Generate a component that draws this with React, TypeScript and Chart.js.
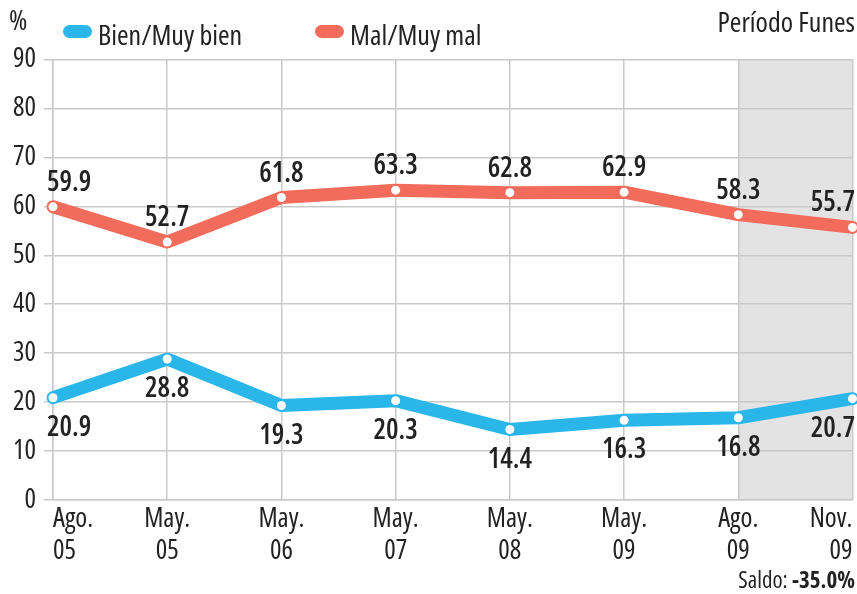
import React, { useEffect, useRef } from "react";
import { Chart, registerables } from "chart.js";

Chart.register(...registerables);

const categories: string[][] = [
  ["Ago.", "05"],
  ["May.", "05"],
  ["May.", "06"],
  ["May.", "07"],
  ["May.", "08"],
  ["May.", "09"],
  ["Ago.", "09"],
  ["Nov.", "09"],
];
const bienValues = [20.9, 28.8, 19.3, 20.3, 14.4, 16.3, 16.8, 20.7];
const malValues = [59.9, 52.7, 61.8, 63.3, 62.8, 62.9, 58.3, 55.7];
const yTicks = [0, 10, 20, 30, 40, 50, 60, 70, 80, 90];
const seriesNames = ["Bien/Muy bien", "Mal/Muy mal"];
const unitLabel = "%";
const periodLabel = "Período Funes";
const saldoLabel = "Saldo: ";
const saldoValue = "-35.0%";
const shadedStartIndex = 6;

const W = 857;
const H = 594;
const FAMILY = '"Open Sans", "DejaVu Sans Condensed", sans-serif';
const f = (size: number, weight = "") => `${weight} condensed ${size}px ${FAMILY}`.trim();
const BLUE = "#2bb6ea";
const RED = "#f36b5b";
const TEXT = "#222222";
const GRID = "#c9c9c9";
const BAND = "#e3e3e3";

const bandPlugin = {
  id: "band",
  beforeDraw(chart: any) {
    const { ctx, chartArea, scales } = chart;
    ctx.save();
    ctx.fillStyle = "#ffffff";
    ctx.fillRect(0, 0, chart.width, chart.height);
    const x0 = scales.x.getPixelForValue(shadedStartIndex);
    ctx.fillStyle = BAND;
    ctx.fillRect(x0, chartArea.top, chartArea.right - x0, chartArea.bottom - chartArea.top);
    ctx.restore();
  },
};

const textPlugin = {
  id: "texts",
  afterDraw(chart: any) {
    const { ctx, chartArea } = chart;
    ctx.save();
    ctx.fillStyle = TEXT;
    ctx.textBaseline = "alphabetic";

    // unit
    ctx.font = f(28);
    ctx.textAlign = "left";
    ctx.fillText(unitLabel, 9, 30);

    // legend
    const legend = [
      { name: seriesNames[0], color: BLUE, x: 63 },
      { name: seriesNames[1], color: RED, x: 315 },
    ];
    legend.forEach((l) => {
      ctx.fillStyle = l.color;
      ctx.beginPath();
      (ctx as any).roundRect(l.x, 25, 29, 13, 6.5);
      ctx.fill();
      ctx.fillStyle = TEXT;
      ctx.font = f(28);
      ctx.textAlign = "left";
      ctx.fillText(l.name, l.x + 35, 45);
    });

    // period label
    ctx.font = f(28);
    ctx.textAlign = "right";
    ctx.fillText(periodLabel, 855, 32);

    // saldo
    ctx.font = f(23, "bold");
    const vw = ctx.measureText(saldoValue).width;
    ctx.textAlign = "right";
    ctx.fillText(saldoValue, 855, 588);
    ctx.font = f(23);
    ctx.fillText(saldoLabel, 855 - vw, 588);

    // data labels
    ctx.font = f(28, "600");
    ctx.textAlign = "left";
    chart.data.datasets.forEach((ds: any, di: number) => {
      const meta = chart.getDatasetMeta(di);
      const above = di === 1;
      meta.data.forEach((pt: any, i: number) => {
        const txt = ds.data[i].toFixed(1);
        const w = ctx.measureText(txt).width;
        let left = pt.x - w / 2;
        if (left < chartArea.left - 6) left = chartArea.left - 6;
        if (left + w > 855) left = 855 - w;
        const y = above ? pt.y - 16 : pt.y + 38;
        ctx.fillText(txt, left, y);
      });
    });
    ctx.restore();
  },
};

export default function App() {
  const ref = useRef<HTMLCanvasElement | null>(null);

  useEffect(() => {
    if (!ref.current) return;
    const chart = new Chart(ref.current, {
      type: "line",
      data: {
        labels: categories,
        datasets: [
          {
            label: seriesNames[0],
            data: bienValues,
            borderColor: BLUE,
            borderWidth: 13,
            borderJoinStyle: "round",
            borderCapStyle: "round",
            pointRadius: 4.5,
            pointBackgroundColor: "#ffffff",
            pointBorderWidth: 0,
            tension: 0,
          },
          {
            label: seriesNames[1],
            data: malValues,
            borderColor: RED,
            borderWidth: 13,
            borderJoinStyle: "round",
            borderCapStyle: "round",
            pointRadius: 4.5,
            pointBackgroundColor: "#ffffff",
            pointBorderWidth: 0,
            tension: 0,
          },
        ],
      },
      options: {
        responsive: false,
        animation: false,
        devicePixelRatio: 1,
        layout: { padding: { left: 0, right: 3, top: 59.5, bottom: 0 } },
        plugins: {
          legend: { display: false },
          tooltip: { enabled: false },
        },
        scales: {
          x: {
            type: "category",
            offset: false,
            grid: { color: GRID, lineWidth: 1.5, drawTicks: false, tickLength: 0 },
            border: { display: true, color: GRID, width: 1.5 },
            ticks: {
              color: TEXT,
              font: { family: FAMILY, size: 27, weight: "condensed", lineHeight: 1.2 },
              padding: 3,
              maxRotation: 0,
              autoSkip: false,
              align: "inner",
            },
            afterFit(scale: any) {
              scale.height = 94;
              scale.paddingLeft = 0;
              scale.paddingRight = 0;
            },
          },
          y: {
            min: 0,
            max: 90,
            grid: { color: GRID, lineWidth: 1.5, drawTicks: true, tickLength: 9 },
            border: { display: true, color: GRID, width: 1.5 },
            ticks: {
              color: TEXT,
              font: { family: FAMILY, size: 27, weight: "condensed" },
              padding: 8,
              stepSize: 10,
            },
            afterBuildTicks(scale: any) {
              scale.ticks = yTicks.map((v) => ({ value: v }));
            },
            afterFit(scale: any) {
              scale.width = 53;
              scale.paddingTop = 0;
              scale.paddingBottom = 0;
            },
          },
        },
      },
      plugins: [bandPlugin, textPlugin],
    } as any);
    return () => chart.destroy();
  }, []);

  return (
    <div style={{ position: "fixed", left: 0, top: 0, width: W, height: H, background: "#fff" }}>
      <canvas ref={ref} width={W} height={H} style={{ display: "block", width: W, height: H }} />
    </div>
  );
}
